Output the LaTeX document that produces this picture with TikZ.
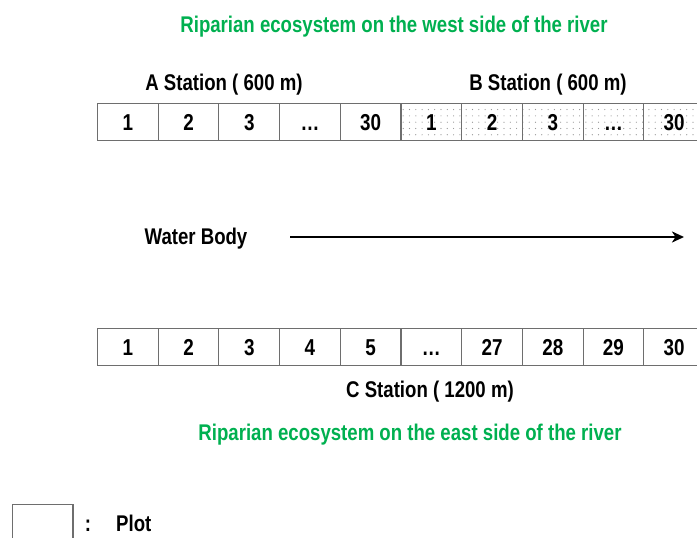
\documentclass[tikz,border=0pt]{standalone}
\usepackage{fontspec}
\setmainfont{Liberation Sans}[FakeStretch=0.82]
\usetikzlibrary{arrows.meta,patterns.meta}
\definecolor{ripgreen}{HTML}{00B050}
\definecolor{cellline}{HTML}{6E6E6E}
\tikzset{
  lbl/.style={font=\fontsize{22.7}{26}\selectfont\bfseries, inner sep=0pt, anchor=base},
  greenlbl/.style={lbl, text=ripgreen},
  plot/.style={draw=cellline, line width=1.1pt, minimum width=60.7pt, minimum height=37.4pt,
    inner sep=0pt, text height=16.3pt, text depth=0pt,
    font=\fontsize{23}{26}\selectfont\bfseries},
  dotted plot/.style={plot, pattern={Dots[distance=6.3pt, radius=0.6pt]}, pattern color=gray!85},
  flow/.style={line width=2.8pt, -{Stealth[length=12pt, width=11pt, inset=3.5pt]}}
}
\begin{document}
\begin{tikzpicture}[x=1pt, y=-1pt]
  \useasboundingbox (0,0) rectangle (697,538);

  % west bank: stations A and B
  \node[greenlbl] (west) at (394,32) {Riparian ecosystem on the west side of the river};
  \node[lbl] (alabel) at (224,90) {A Station ( 600 m)};
  \node[lbl] (blabel) at (548,90) {B Station ( 600 m)};
  \foreach \t [count=\i] in {1,2,3,\ldots,30}
    \node[plot] (a\i) at ({97.5+60.7*(\i-0.5)},122) {\t};
  \foreach \t [count=\i] in {1,2,3,\ldots,30}
    \node[dotted plot] (b\i) at ({97.5+60.7*(\i+4.5)},122) {\t};

  % river flow
  \node[lbl] (water) at (196,244) {Water Body};
  \coordinate (flowstart) at (290,237);
  \coordinate (flowend) at (684,237);
  \draw[flow] (flowstart) -- (flowend);

  % east bank: station C
  \foreach \t [count=\i] in {1,2,3,4,5,\ldots,27,28,29,30}
    \node[plot] (c\i) at ({97.5+60.7*(\i-0.5)},347) {\t};
  \node[lbl] (clabel) at (430,397) {C Station ( 1200 m)};
  \node[greenlbl] (east) at (410,440) {Riparian ecosystem on the east side of the river};

  % legend
  \node[plot, anchor=north west] (legendbox) at (11.7,504.3) {};
  \node[lbl] (colon) at (88,531) {:};
  \node[lbl, anchor=base west] (plotlbl) at (116,531) {Plot};
\end{tikzpicture}
\end{document}
